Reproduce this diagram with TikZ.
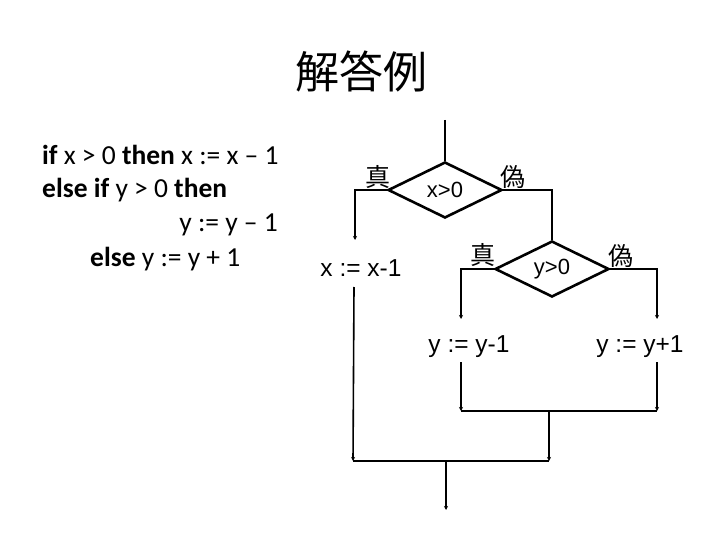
\documentclass[tikz,border=0pt]{standalone}
\usepackage{fontspec}
\setmainfont{Carlito}
\newfontfamily\cjk{Noto Sans CJK JP}
\newfontfamily\arialf{Liberation Sans}
\usetikzlibrary{shapes.geometric,arrows.meta}
\begin{document}
\begin{tikzpicture}[x=1pt,y=-1pt,
  codeline/.style={anchor=base west,inner sep=0pt,font=\fontsize{27.5}{30}\selectfont},
  decision/.style={diamond,draw,line width=2.6pt,minimum width=114pt,minimum height=56pt,inner sep=0pt,font=\arialf\fontsize{22}{24}\selectfont},
  stmt/.style={inner sep=0pt,font=\arialf\fontsize{24.5}{26}\selectfont},
  tf/.style={inner sep=0pt,font=\cjk\fontsize{25}{26}\selectfont},
  conn/.style={draw,line width=1.6pt},
  arr/.style={conn,-{Stealth[length=4pt,width=4pt]}}]
\useasboundingbox (0,0) rectangle (720,540);
% title
\node[font=\cjk\fontsize{44}{48}\selectfont,inner sep=0pt] (title) at (361,71) {解答例};
% code
\node[codeline] (l1) at (42,165) {\textbf{if} x > 0 \textbf{then} x := x – 1};
\node[codeline] (l2) at (42,198) {\textbf{else if} y > 0 \textbf{then}};
\node[codeline,anchor=base east] (l3) at (278,232) {y := y – 1};
\node[codeline] (l4) at (90,266) {\textbf{else} y := y + 1};
% flowchart
\coordinate (start) at (445,120);
\node[decision] (d1) at (445,190) {x>0};
\node[tf] (t1) at (378,177) {真};
\node[tf] (f1) at (513,177) {偽};
\node[stmt] (s1) at (361,268) {x := x-1};
\node[decision] (d2) at (552,269) {y>0};
\node[tf] (t2) at (483,255) {真};
\node[tf] (f2) at (621,256) {偽};
\node[stmt] (s2) at (469,347) {y := y-1};
\node[stmt] (s3) at (640,347) {y := y+1};
\coordinate (a1) at (355,240);
\coordinate (a2) at (461,319);
\coordinate (a3) at (657,319);
\coordinate (b2top) at (461,362);
\coordinate (b2) at (461,411);
\coordinate (b3top) at (657,362);
\coordinate (b3) at (657,411);
\coordinate (m1) at (549,411);
\coordinate (m2) at (549,461);
\coordinate (b1top) at (354,287);
\coordinate (b1) at (353,461);
\coordinate (j) at (446,461);
\coordinate (endp) at (446,510);
\draw[conn] (start) -- (d1.north);
\draw[arr] (d1.west) -| (a1);
\draw[conn] (d1.east) -| (d2.north);
\draw[arr] (d2.west) -| (a2);
\draw[arr] (d2.east) -| (a3);
\draw[arr] (b2top) -- (b2);
\draw[arr] (b3top) -- (b3);
\draw[conn] (b2) -- (b3);
\draw[arr] (m1) -- (m2);
\draw[arr] (b1top) -- (b1);
\draw[conn] (b1) -- (m2);
\draw[arr] (j) -- (endp);
\end{tikzpicture}
\end{document}
